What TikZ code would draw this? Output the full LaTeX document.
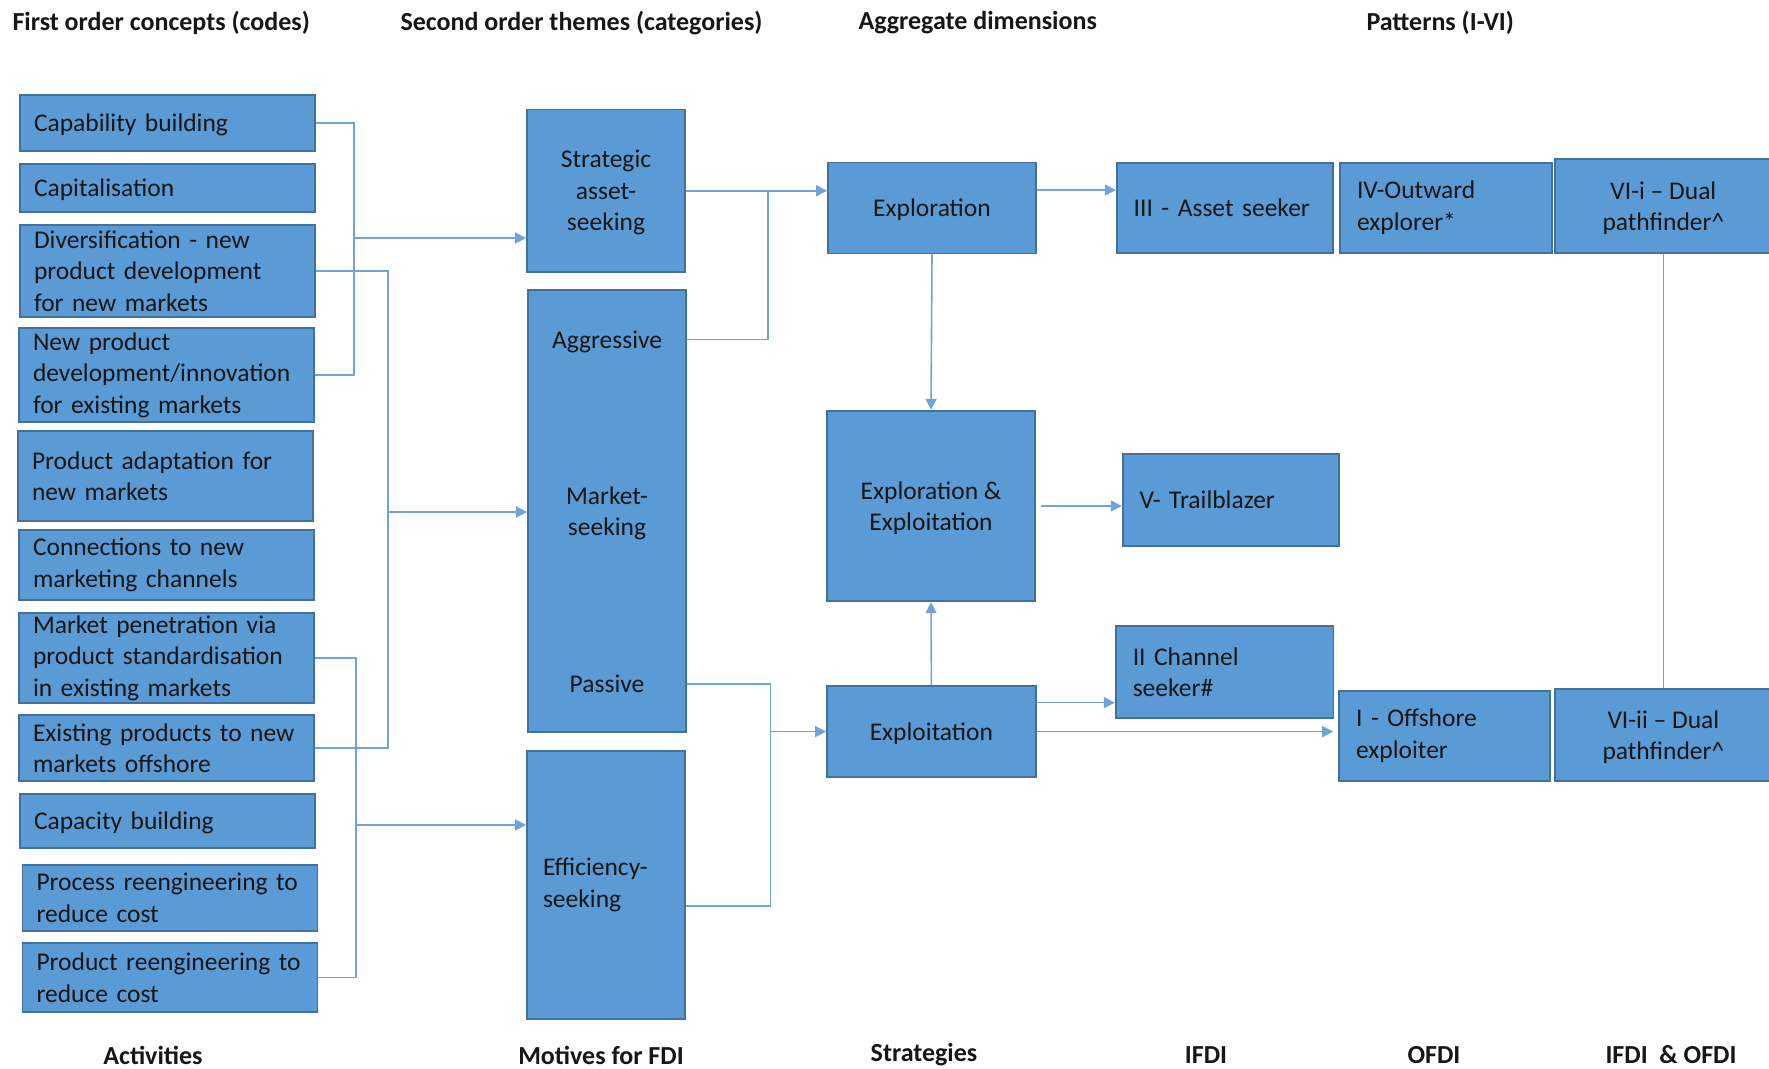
\documentclass[tikz,border=0pt]{standalone}
\usepackage{fontspec}
\setmainfont{Carlito}
\usetikzlibrary{arrows.meta}
\hyphenpenalty=10000
\exhyphenpenalty=10000
\definecolor{boxfill}{HTML}{5B9BD5}
\definecolor{boxedge}{HTML}{41719C}
\definecolor{wire}{HTML}{6FA3D9}
\definecolor{ink}{HTML}{161616}
\tikzset{
    fdi diagram/.style = {x=1pt, y=-1pt, >={Triangle[length=11pt, width=11pt]}},
    txt/.style         = {font=\fontsize{25.5}{31.5}\selectfont, text=ink},
    flat/.style        = {txt, text depth=0pt},
    head/.style        = {font=\bfseries\fontsize{26}{31}\selectfont, text=ink},
    block/.style       = {txt, draw=boxedge, fill=boxfill, line width=1.8pt,
                          inner ysep=0pt},
    centred/.style     = {block, text depth=0pt, align=center},
    code/.style        = {block, minimum height=#1, inner xsep=14pt,
                          text width=267pt, align=left},
    pattern/.style     = {block, inner xsep=17pt, align=left},
    line/.style        = {draw=wire, line width=1.6pt},
    arr/.style         = {line, ->}
}
\begin{document}
\begin{tikzpicture}[fdi diagram]
\useasboundingbox (0,0) rectangle (1769,1068);

% Column headings and footers
\node[head, anchor=west] (h1) at (9,23)    {First order concepts (codes)};
\node[head, anchor=west] (h2) at (397,23)  {Second order themes (categories)};
\node[head, anchor=west] (h3) at (855,23)  {Aggregate dimensions};
\node[head, anchor=west] (h4) at (1363,23) {Patterns (I-VI)};
\node[head] (f1) at (153,1055)  {Activities};
\node[head] (f2) at (601,1055)  {Motives for FDI};
\node[head] (f3) at (924,1055)  {Strategies};
\node[head] (f4) at (1206,1055) {IFDI};
\node[head] (f5) at (1434,1055) {OFDI};
\node[head] (f6) at (1671,1055) {IFDI~ \& OFDI};

% First order concepts
\node[code=56pt, text depth=0pt]   (cap)  at (167.5,123) {Capability building};
\node[code=48.5pt, text depth=0pt] (capi) at (167.5,188) {Capitalisation};
\node[code=92.5pt] (div)    at (167.5,271) {Diversification - new\\product development\\for new markets};
\node[code=94pt]   (newp)   at (166.5,375) {New product\\development/innovation\\for existing markets};
\node[code=90pt]   (adapt)  at (165.5,476) {Product adaptation for\\new markets};
\node[code=70pt]   (conn)   at (166.5,565) {Connections to new\\marketing channels};
\node[code=90pt]   (mpen)   at (166.5,658) {Market penetration via\\product standardisation\\in existing markets};
\node[code=66pt]   (exist)  at (166.5,748) {Existing products to new\\markets offshore};
\node[code=54pt, text depth=0pt]   (capa) at (167.5,821) {Capacity building};
\node[code=66pt]   (procre) at (170,898)   {Process reengineering to\\reduce cost};
\node[code=69pt]   (prodre) at (170,977.5) {Product reengineering to\\reduce cost};

% Second order themes
\node[centred, minimum width=158pt, minimum height=162.5pt]
    (strat) at (606,190.7) {Strategic\\asset-\\seeking};
\node[block, minimum width=158pt, minimum height=442pt] (mkt) at (607,511) {};
\node[flat] (aggr) at (607,339.6) {Aggressive};
\node[flat, align=center] (mseek) at (607,511) {Market-\\seeking};
\node[flat] (pasv) at (607,683.7) {Passive};
\node[block, minimum height=268pt, inner xsep=16pt, text width=126pt, align=left]
    (eff) at (606,885) {Efficiency-\\seeking};

% Aggregate dimensions
\node[centred, minimum width=208pt, minimum height=91pt] (expl) at (932,208) {Exploration};
\node[centred, minimum width=208pt, minimum height=190.6pt]
    (ee) at (931,506) {Exploration \&\\Exploitation};
\node[centred, minimum width=208.7pt, minimum height=91.4pt]
    (exploit) at (931.4,731.6) {Exploitation};

% Patterns
\node[pattern, minimum height=90pt, text width=182.6pt, text depth=0pt]   (asset) at (1225,207.6) {III - Asset seeker};
\node[pattern, minimum height=91.4pt, text width=182.6pt, text depth=0pt] (trail) at (1231,500)   {V- Trailblazer};
\node[pattern, minimum height=91.4pt, text width=183.7pt] (chan)  at (1224.6,672) {II Channel\\seeker\#};
\node[pattern, minimum height=90pt, text width=178pt]     (outw)  at (1446,207.6) {IV-Outward\\explorer*};
\node[pattern, minimum height=90pt, text width=177pt]     (offs)  at (1444.6,735.6) {I - Offshore\\exploiter};
\node[centred, minimum width=217pt, minimum height=93.7pt]
    (dual1) at (1663.4,206) {VI-i -- Dual\\pathfinder\textasciicircum};
\node[centred, minimum width=217pt, minimum height=91.4pt]
    (dual2) at (1663.4,735) {VI-ii -- Dual\\pathfinder\textasciicircum};

% Concepts into themes
\coordinate (jcap) at (354,238);
\coordinate (jdiv) at (388,512);
\coordinate (jmp)  at (356,825);
\draw[line] (cap.east) -| (jcap |- newp.east) -- (newp.east);
\draw[arr]  (jcap) -- (jcap -| strat.west);
\draw[line] (div.east) -| (jdiv |- exist.east) -- (exist.east);
\draw[arr]  (jdiv) -- (jdiv -| mkt.west);
\draw[line] (mpen.east) -| (jmp |- prodre.east) -- (prodre.east);
\draw[arr]  (jmp) -- (jmp -| eff.west);

% Themes into strategies
\coordinate (jagg) at (768,192);
\coordinate (jpas) at (770.6,732);
\draw[arr]  (strat.east) -- (strat.east -| expl.west);
\draw[line] (aggr -| mkt.east) -| (jagg |- strat.east);
\draw[line] (pasv -| mkt.east) -| ([yshift=-21pt]jpas |- eff.east)
            -- ([yshift=-21pt]eff.east);
\draw[arr]  (jpas |- exploit.west) -- (exploit.west);
\draw[arr]  (expl.south) -- (ee.north);
\draw[arr]  (exploit.north) -- (ee.south);

% Strategies into patterns
\draw[arr]  ([yshift=18pt]expl.east) -- ([yshift=18pt]expl.east -| asset.west);
\draw[arr]  ([xshift=5pt]ee.east) -- (ee.east -| trail.west);
\draw[arr]  ([yshift=29pt]exploit.east) -- ([yshift=29pt]exploit.east -| chan.west);
\draw[arr]  (exploit.east) -- ([xshift=-5pt]exploit.east -| offs.west);
\draw[line] (dual1.south) -- (dual1.south |- dual2.north);

\end{tikzpicture}
\end{document}
